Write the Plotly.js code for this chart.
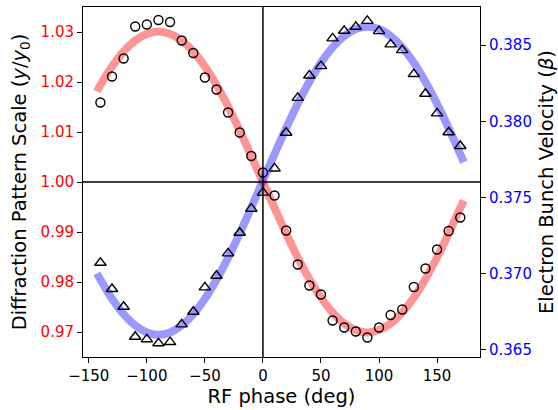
<!DOCTYPE html>
<html><head><meta charset="utf-8">
<script src="https://cdn.plot.ly/plotly-3.0.1.min.js"></script>
<style>body{margin:0;background:#fff;} #chart{width:558px;height:410px;}</style>
</head><body><div id="chart"></div>
<script>
// Measured points
const phasePts = [-140,-130,-120,-110,-100,-90,-80,-70,-60,-50,-40,-30,-20,-10,0,10,20,30,40,50,60,70,80,90,100,110,120,130,140,150,160,170];
const scalePts = [1.0159,1.0211,1.0247,1.0311,1.0315,1.0324,1.0320,1.0283,1.0258,1.0209,1.0185,1.0139,1.0099,1.0052,1.0019,0.9973,0.9903,0.9835,0.9793,0.9775,0.9723,0.9709,0.9701,0.9689,0.9709,0.9734,0.9745,0.9790,0.9827,0.9865,0.9902,0.9929];
const velocityPts = [0.37072,0.36900,0.36784,0.36587,0.36570,0.36544,0.36552,0.36668,0.36751,0.36911,0.36987,0.37134,0.37269,0.37427,0.37532,0.37691,0.37925,0.38154,0.38301,0.38362,0.38544,0.38594,0.38620,0.38659,0.38592,0.38505,0.38467,0.38310,0.38181,0.38052,0.37928,0.37838];
// Fitted curves
const curvePhase = [-143,-140,-130,-120,-110,-100,-90,-80,-70,-60,-50,-40,-30,-20,-10,0,10,20,30,40,50,60,70,80,90,100,110,120,130,140,150,160,170,173];
const scaleFit = [1.0181,1.0194,1.0231,1.0261,1.0283,1.0296,1.0301,1.0296,1.0283,1.0261,1.0231,1.0194,1.0151,1.0103,1.0052,1.0000,0.9948,0.9897,0.9849,0.9806,0.9769,0.9739,0.9717,0.9704,0.9699,0.9704,0.9717,0.9739,0.9769,0.9806,0.9849,0.9897,0.9948,0.9963];
const velocityFit = [0.37002,0.36961,0.36836,0.36735,0.36661,0.36615,0.36600,0.36615,0.36661,0.36735,0.36836,0.36961,0.37105,0.37265,0.37435,0.37610,0.37785,0.37955,0.38115,0.38259,0.38384,0.38485,0.38559,0.38605,0.38620,0.38605,0.38559,0.38485,0.38384,0.38259,0.38115,0.37955,0.37785,0.37733];
const xTicks = [-150,-100,-50,0,50,100,150];
const yTicks = [0.97,0.98,0.99,1.00,1.01,1.02,1.03];
const y2Ticks = [0.365,0.370,0.375,0.380,0.385];
const xRef = 0, yRef = 1.0;

const font = 'DejaVu Sans, sans-serif';
const traces = [
  {x: curvePhase, y: scaleFit, mode:'lines', line:{color:'rgba(255,0,0,0.42)', width:8, shape:'spline'}, yaxis:'y', hoverinfo:'skip'},
  {x: phasePts, y: scalePts, mode:'markers', marker:{symbol:'circle-open', size:9, color:'black', line:{width:1.4, color:'black'}}, yaxis:'y'},
  {x: curvePhase, y: velocityFit, mode:'lines', line:{color:'rgba(0,0,255,0.4)', width:8, shape:'spline'}, yaxis:'y2', hoverinfo:'skip'},
  {x: phasePts, y: velocityPts, mode:'markers', marker:{symbol:'triangle-up-open', size:10, color:'black', line:{width:1.4, color:'black'}}, yaxis:'y2'}
];
const axBase = {showgrid:false, zeroline:false, ticks:'outside', ticklen:5, tickwidth:1, tickcolor:'black', showline:true, linecolor:'black', linewidth:1};
const layout = {
  width:558, height:410, showlegend:false,
  paper_bgcolor:'white', plot_bgcolor:'white',
  margin:{l:83, r:78, t:7, b:53},
  font:{family:font, color:'black'},
  xaxis: Object.assign({}, axBase, {range:[-155,187], tickvals:xTicks, mirror:true, tickfont:{size:15, family:font},
    title:{text:'RF phase (deg)', font:{size:19.5, family:font}, standoff:2}}),
  yaxis: Object.assign({}, axBase, {range:[0.965,1.035], tickvals:yTicks, tickformat:'.2f', tickfont:{size:15, family:font, color:'#ff0000'},
    title:{text:'Diffraction Pattern Scale (<i>y</i>/<i>y</i><sub>0</sub>)', font:{size:19.5, family:font}, standoff:8}}),
  yaxis2: Object.assign({}, axBase, {range:[0.36454,0.3875], tickvals:y2Ticks, tickformat:'.3f', overlaying:'y', side:'right', tickfont:{size:15, family:font, color:'#0000ff'},
    title:{text:'Electron Bunch Velocity (<i>β</i>)', font:{size:19.5, family:font}, standoff:10}}),
  shapes:[
    {type:'line', xref:'x', yref:'paper', x0:xRef, x1:xRef, y0:0, y1:1, line:{color:'black', width:1.5}},
    {type:'line', xref:'paper', yref:'y', x0:0, x1:1, y0:yRef, y1:yRef, line:{color:'black', width:1.5}}
  ]
};
Plotly.newPlot('chart', traces, layout, {staticPlot:true});
</script>
</body></html>
